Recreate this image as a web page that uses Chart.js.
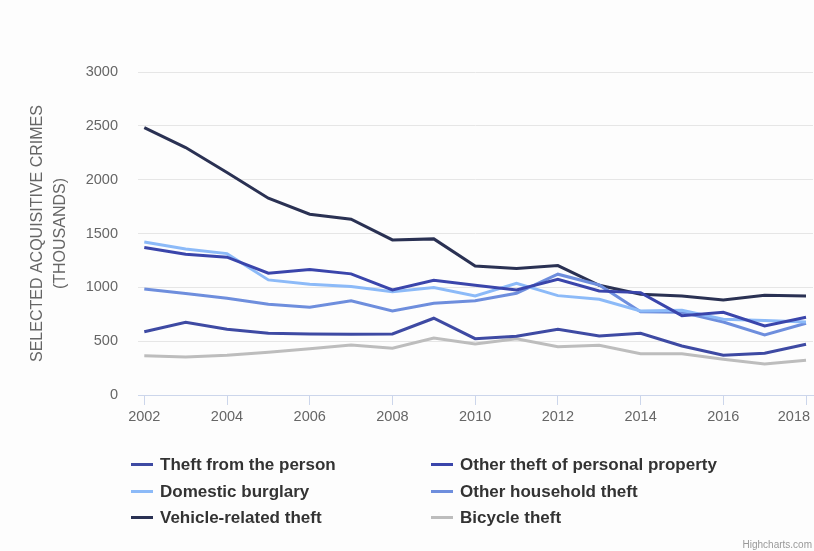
<!DOCTYPE html>
<html>
<head>
<meta charset="utf-8">
<script src="https://cdn.jsdelivr.net/npm/chart.js@4"></script>
<style>
  html, body { margin: 0; padding: 0; background: #fdfdfd; }
  .wrap { position: relative; width: 814px; height: 551px; }
  #legend { position: absolute; left: 131px; top: 452px; width: 660px;
    font: bold 17px "Liberation Sans", Arial, sans-serif; color: #333; }
  .item { position: absolute; height: 26px; line-height: 26px; white-space: nowrap; }
  .item span.sym { display: inline-block; width: 22px; height: 3px; vertical-align: middle; margin-right: 7px; position: relative; top: -1px; }
  .credits { position: absolute; right: 2px; bottom: 1px; font: 10px "Liberation Sans", Arial, sans-serif; color: #999; }
</style>
</head>
<body>
<div class="wrap">
  <canvas id="myChart" width="814" height="551"></canvas>
  <div id="legend"></div>
  <div class="credits">Highcharts.com</div>
</div>
<script>
let years = [2002, 2003, 2004, 2005, 2006, 2007, 2008, 2009, 2010, 2011, 2012, 2013, 2014, 2015, 2016, 2017, 2018];
let yTicks = [0, 500, 1000, 1500, 2000, 2500, 3000];

let theftPerson = [588, 675, 610, 573, 567, 564, 567, 713, 523, 545, 610, 548, 573, 455, 369, 387, 471];
let otherPersonal = [1369, 1307, 1280, 1131, 1165, 1125, 976, 1066, 1019, 976, 1075, 967, 951, 737, 768, 641, 722];
let burglary = [1422, 1357, 1313, 1069, 1029, 1007, 960, 998, 920, 1038, 923, 889, 781, 787, 703, 691, 678];
let household = [985, 942, 899, 843, 815, 876, 781, 852, 876, 945, 1122, 1022, 774, 768, 678, 558, 666];
let vehicle = [2484, 2298, 2066, 1828, 1679, 1633, 1440, 1450, 1199, 1174, 1202, 1019, 935, 920, 883, 926, 920];
let bicycle = [365, 353, 369, 397, 430, 465, 434, 530, 474, 523, 449, 462, 384, 384, 332, 288, 322];

let names = ['Theft from the person', 'Other theft of personal property', 'Domestic burglary',
  'Other household theft', 'Vehicle-related theft', 'Bicycle theft'];
let series = [theftPerson, otherPersonal, burglary, household, vehicle, bicycle];
let colors = ['#3e4aa3', '#3a45ab', '#8cbaf8', '#6e8edd', '#2a3153', '#bdbdbd'];

function pts(vals) {
    return vals.map((v, i) => ({ x: years[i], y: v }));
}

let datasets = series.map((s, i) => ({
    label: names[i],
    data: pts(s),
    borderColor: colors[i],
    backgroundColor: colors[i],
    borderWidth: 3,
    pointRadius: 0,
    tension: 0,
    fill: false
}));

let font = "'Liberation Sans', Arial, sans-serif";
let lastYear = years[years.length - 1];

let myChart = new Chart(document.getElementById('myChart'), {
    type: 'line',
    data: { datasets: datasets },
    options: {
        responsive: false,
        animation: false,
        layout: { padding: { top: 72, right: 1, left: 0, bottom: 126 } },
        plugins: { legend: { display: false }, tooltip: { enabled: false } },
        scales: {
            x: {
                type: 'linear',
                min: 2001.848,
                max: 2018.169,
                afterBuildTicks: s => { s.ticks = years.filter(y => y % 2 === 0).map(v => ({ value: v })); },
                afterFit: s => { s.height = 30; s.paddingLeft = 0; s.paddingRight = 0; },
                grid: { drawOnChartArea: false, drawTicks: true, tickLength: 10, color: '#ccd6eb' },
                border: { color: '#ccd6eb', width: 1 },
                ticks: {
                    padding: 3,
                    maxRotation: 0,
                    autoSkip: false,
                    color: '#666',
                    font: { family: font, size: 14.5 },
                    // last label is pulled inside the chart like in the original
                    callback: v => v === lastYear ? String(v) + '      ' : String(v)
                }
            },
            y: {
                min: 0,
                max: 3000,
                afterBuildTicks: s => { s.ticks = yTicks.map(v => ({ value: v })); },
                afterFit: s => { s.width = 138; },
                grid: { color: '#e6e6e6', drawTicks: false },
                border: { display: false },
                ticks: { padding: 20, color: '#666', font: { family: font, size: 14.5 }, callback: v => String(v) },
                title: {
                    display: true,
                    text: ['SELECTED ACQUISITIVE CRIMES', '(THOUSANDS)'],
                    color: '#666',
                    font: { family: font, size: 16, lineHeight: 1.45 },
                    padding: { top: 26, bottom: 0 }
                }
            }
        }
    }
});

// legend in two columns, built from the datasets
let legend = document.getElementById('legend');
myChart.data.datasets.forEach((ds, i) => {
    let el = document.createElement('div');
    el.className = 'item';
    el.style.left = (i % 2) * 300 + 'px';
    el.style.top = Math.floor(i / 2) * 26.5 + 'px';
    el.innerHTML = '<span class="sym" style="background:' + ds.borderColor + '"></span>' + ds.label;
    legend.appendChild(el);
});
</script>
</body>
</html>
